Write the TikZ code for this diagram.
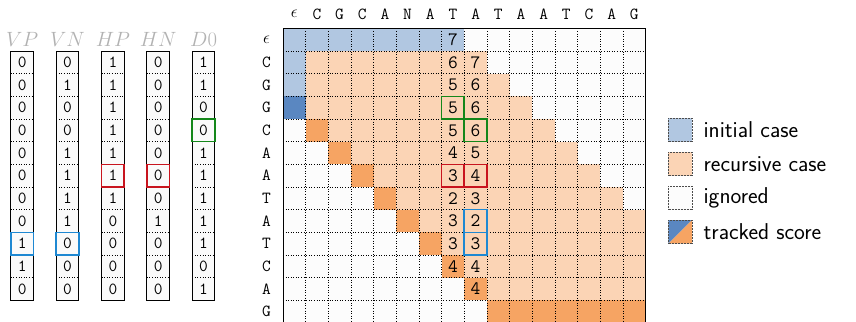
\documentclass[tikz,border=0pt]{standalone}
\usepackage{fontspec}

\definecolor{initcol}{HTML}{B1C7E1}
\definecolor{trackblue}{HTML}{5A87C1}
\definecolor{reccol}{HTML}{FBD4B5}
\definecolor{trackorange}{HTML}{F6A463}
\definecolor{ignorecol}{HTML}{FCFCFC}
\definecolor{hlgreen}{HTML}{14871A}
\definecolor{hlred}{HTML}{C8141E}
\definecolor{hlblue}{HTML}{1E88D2}

\begin{document}
\begin{tikzpicture}[x=0.8cm,y=0.8cm,
    seqlabel/.style={font=\fontsize{17}{18}\selectfont\ttfamily, inner sep=0pt},
    score/.style={font=\fontsize{19}{20}\selectfont\ttfamily, inner sep=0pt},
    bit/.style={font=\fontsize{17}{18}\selectfont\ttfamily, inner sep=0pt},
    veclabel/.style={font=\fontsize{20}{22}\selectfont, text=black!30, inner sep=0pt},
    legendtext/.style={font=\fontsize{23}{26}\selectfont\sffamily, anchor=west, inner sep=0pt},
    legendbox/.style={draw=black!70, densely dotted, line width=0.5pt},
    hl/.style={line width=1.6pt}]

  \clip (-12.48,1.25) rectangle (25.28,-12.91);

  % background of the DP table
  \fill[ignorecol] (0,0) rectangle (16,-13);
  \fill[initcol] (0,0) rectangle (8,-1);
  \fill[initcol] (0,-1) rectangle (1,-3);
  \fill[trackblue] (0,-3) rectangle (1,-4);
  % band of the recursive case
  \foreach \i in {1,...,11} {
    \pgfmathtruncatemacro{\jmin}{max(1,\i-2)}
    \pgfmathtruncatemacro{\jmax}{min(16,\i+8)}
    \fill[reccol] (\jmin,-\i) rectangle (\jmax,-\i-1);
  }
  % tracked scores along the diagonal
  \foreach \i in {4,...,11}
    \fill[trackorange] (\i-3,-\i) rectangle (\i-2,-\i-1);
  \fill[trackorange] (9,-12) rectangle (16,-13);

  % dotted cell lines
  \foreach \j in {1,...,15}
    \draw[dotted, line width=0.6pt] (\j,0) -- (\j,-13);
  \foreach \i in {1,...,12}
    \draw[dotted, line width=0.6pt] (0,-\i) -- (16,-\i);
  \draw[line width=0.7pt] (0,-13) -- (0,0) -- (16,0) -- (16,-13);

  % sequences
  \foreach \c [count=\j from 0] in {$\epsilon$,C,G,C,A,N,A,T,A,T,A,A,T,C,A,G}
    \node[seqlabel] (top\j) at (\j+0.5,0.62) {\c};
  \foreach \c [count=\i from 0] in {$\epsilon$,C,G,G,C,A,A,T,A,T,C,A,G}
    \node[seqlabel] (left\i) at (-0.72,-\i-0.5) {\c};

  % the two computed columns
  \foreach \v [count=\i from 0] in {7,6,5,5,5,4,3,2,3,3,4}
    \node[score] (s7-\i) at (7.5,-\i-0.5) {\v};
  \foreach \v [count=\i from 1] in {7,6,6,6,5,4,3,2,3,4,4}
    \node[score] (s8-\i) at (8.5,-\i-0.5) {\v};

  \draw[hl, hlgreen] (7,-3) rectangle (8,-4);
  \draw[hl, hlgreen] (8,-4) rectangle (9,-5);
  \draw[hl, hlred] (7,-6) rectangle (8,-7);
  \draw[hl, hlred] (8,-6) rectangle (9,-7);
  \draw[hl, hlblue] (8,-8) rectangle (9,-9);
  \draw[hl, hlblue] (8,-9) rectangle (9,-10);

  % bit vectors
  \foreach \name/\x/\bits in {VP/-12/{0,0,0,0,0,0,0,0,1,1,0},
                              VN/-10/{0,1,0,0,1,1,1,1,0,0,0},
                              HP/-8/{1,1,1,1,1,1,1,0,0,0,0},
                              HN/-6/{0,0,0,0,0,0,0,1,0,0,0},
                              D0/-4/{1,1,0,0,1,1,1,1,1,0,1}} {
    \fill[black!2] (\x,-1) rectangle (\x+1,-12);
    \foreach \i in {2,...,11}
      \draw[dotted, line width=0.6pt] (\x,-\i) -- (\x+1,-\i);
    \draw[line width=0.9pt] (\x,-1) rectangle (\x+1,-12);
    \node[veclabel] (lab\name) at (\x+0.5,-0.5) {$\name$};
    \foreach \b [count=\i from 1] in \bits
      \node[bit] (\name-\i) at (\x+0.5,-\i-0.5) {\b};
  }
  \draw[hl, hlblue] (-12,-9) rectangle (-11,-10);
  \draw[hl, hlblue] (-10,-9) rectangle (-9,-10);
  \draw[hl, hlred] (-8,-6) rectangle (-7,-7);
  \draw[hl, hlred] (-6,-6) rectangle (-5,-7);
  \draw[hl, hlgreen] (-4,-4) rectangle (-3,-5);

  % legend
  \fill[initcol] (17,-3.96) rectangle (18.05,-5);
  \draw[legendbox] (17,-3.96) rectangle (18.05,-5);
  \node[legendtext] (leginit) at (18.55,-4.48) {initial case};
  \fill[reccol] (17,-5.46) rectangle (18.05,-6.5);
  \draw[legendbox] (17,-5.46) rectangle (18.05,-6.5);
  \node[legendtext] (legrec) at (18.55,-5.98) {recursive case};
  \fill[ignorecol] (17,-6.96) rectangle (18.05,-8);
  \draw[legendbox] (17,-6.96) rectangle (18.05,-8);
  \node[legendtext] (legign) at (18.55,-7.48) {ignored};
  \fill[trackblue] (17,-8.46) -- (18.05,-8.46) -- (17,-9.5) -- cycle;
  \fill[trackorange] (18.05,-8.46) -- (18.05,-9.5) -- (17,-9.5) -- cycle;
  \draw[legendbox] (17,-8.46) rectangle (18.05,-9.5);
  \node[legendtext] (legtrack) at (18.55,-8.98) {tracked score};
\end{tikzpicture}
\end{document}
